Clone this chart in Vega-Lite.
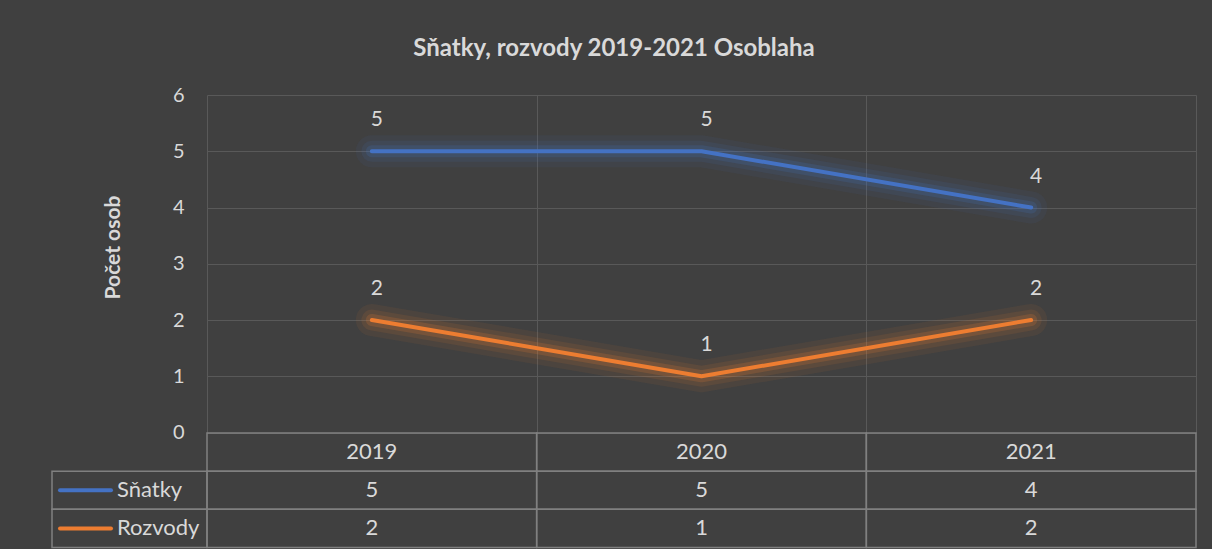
{
  "$schema": "https://vega.github.io/schema/vega-lite/v6.json",
  "background": "#404040",
  "padding": {"left": 51, "top": 37, "right": 16, "bottom": 2},
  "autosize": {"type": "pad"},
  "title": {
    "text": "Sňatky, rozvody 2019-2021 Osoblaha",
    "font": "Lato",
    "fontSize": 24,
    "fontWeight": "bold",
    "color": "#d9d9d9",
    "anchor": "middle",
    "baseline": "alphabetic",
    "offset": 5,
    "dx": -10
  },
  "datasets": {
    "d": [
      {"year": "2019", "series": "Sňatky", "value": 5},
      {"year": "2020", "series": "Sňatky", "value": 5},
      {"year": "2021", "series": "Sňatky", "value": 4},
      {"year": "2019", "series": "Rozvody", "value": 2},
      {"year": "2020", "series": "Rozvody", "value": 1},
      {"year": "2021", "series": "Rozvody", "value": 2}
    ],
    "years": [{"year": "2019"}, {"year": "2020"}, {"year": "2021"}],
    "series": [{"series": "Sňatky"}, {"series": "Rozvody"}]
  },
  "bounds": "flush",
  "spacing": 0,
  "columns": 2,
  "concat": [
    {
      "width": 155,
      "height": 337.5,
      "data": {"values": []},
      "mark": "point"
    },
    {
      "width": 989,
      "height": 337.5,
      "data": {"name": "d"},
      "encoding": {
        "x": {
          "field": "year",
          "type": "ordinal",
          "bandPosition": 0.5,
          "scale": {"type": "band", "paddingInner": 0, "paddingOuter": 0, "domain": ["2019", "2020", "2021"]},
          "axis": {"title": null, "labels": false, "ticks": false, "domain": false, "grid": true, "tickBand": "extent", "gridColor": "#595959", "gridWidth": 1}
        },
        "y": {
          "field": "value",
          "type": "quantitative",
          "scale": {"domain": [0, 6], "nice": false},
          "axis": {
            "title": "Počet osob",
            "titleFont": "Lato",
            "titleFontSize": 21,
            "titleFontWeight": "bold",
            "titleColor": "#d9d9d9",
            "titlePadding": 49,
            "titleY": 152,
            "values": [0, 1, 2, 3, 4, 5, 6],
            "labelFont": "Lato",
            "labelFontSize": 20,
            "labelColor": "#d9d9d9",
            "labelPadding": 23,
            "ticks": false,
            "domain": false,
            "grid": true,
            "gridColor": "#595959",
            "gridWidth": 1
          }
        },
        "color": {
          "field": "series",
          "type": "nominal",
          "scale": {"domain": ["Sňatky", "Rozvody"], "range": ["#4472C4", "#ED7D31"]},
          "legend": null
        }
      },
      "layer": [
        {"mark": {"type": "line", "strokeWidth": 32, "opacity": 0.07, "strokeCap": "round", "strokeJoin": "round"}},
        {"mark": {"type": "line", "strokeWidth": 21, "opacity": 0.1, "strokeCap": "round", "strokeJoin": "round"}},
        {"mark": {"type": "line", "strokeWidth": 12, "opacity": 0.18, "strokeCap": "round", "strokeJoin": "round"}},
        {"mark": {"type": "line", "strokeWidth": 4, "strokeCap": "round", "strokeJoin": "round"}},
        {
          "mark": {"type": "text", "dy": -31, "dx": 5, "font": "Lato", "fontSize": 21, "baseline": "middle"},
          "encoding": {"text": {"field": "value"}, "color": {"value": "#d9d9d9"}}
        }
      ]
    },
    {
      "width": 155,
      "height": 114.5,
      "data": {"name": "series"},
      "encoding": {
        "y": {
          "field": "series",
          "type": "nominal",
          "scale": {"type": "band", "domain": ["Rok", "Sňatky", "Rozvody"], "paddingInner": 0, "paddingOuter": 0},
          "axis": null
        }
      },
      "layer": [
        {"mark": {"type": "rect", "filled": false, "stroke": "#808080", "strokeWidth": 1.5}},
        {
          "mark": {"type": "point", "shape": "stroke", "size": 2601, "strokeWidth": 4, "filled": false, "opacity": 1, "strokeCap": "round", "xOffset": -5.25},
          "encoding": {
            "x": {"datum": "swatch", "type": "ordinal", "bandPosition": 0.5, "scale": {"type": "band", "domain": ["swatch", "name"], "paddingInner": 0, "paddingOuter": 0}, "axis": null},
            "color": {
              "field": "series",
              "type": "nominal",
              "scale": {"domain": ["Sňatky", "Rozvody"], "range": ["#4472C4", "#ED7D31"]},
              "legend": null
            }
          }
        },
        {
          "mark": {"type": "text", "align": "left", "baseline": "middle", "font": "Lato", "fontSize": 22, "color": "#d9d9d9", "dx": -12.5},
          "encoding": {
            "x": {"datum": "name", "type": "ordinal", "bandPosition": 0},
            "text": {"field": "series"}
          }
        }
      ]
    },
    {
      "width": 989,
      "height": 114.5,
      "encoding": {
        "x": {
          "field": "year",
          "type": "ordinal",
          "scale": {"type": "band", "paddingInner": 0, "paddingOuter": 0, "domain": ["2019", "2020", "2021"]},
          "axis": null
        }
      },
      "layer": [
        {
          "data": {"name": "years"},
          "mark": {"type": "rect", "filled": false, "stroke": "#808080", "strokeWidth": 1.5},
          "encoding": {
            "y": {"datum": "Rok", "type": "nominal", "scale": {"type": "band", "domain": ["Rok", "Sňatky", "Rozvody"], "paddingInner": 0, "paddingOuter": 0}, "axis": null}
          }
        },
        {
          "data": {"name": "years"},
          "mark": {"type": "text", "baseline": "middle", "font": "Lato", "fontSize": 22, "color": "#d9d9d9"},
          "encoding": {
            "x": {"field": "year", "type": "ordinal", "bandPosition": 0.5},
            "y": {"datum": "Rok", "type": "nominal", "bandPosition": 0.5},
            "text": {"field": "year"}
          }
        },
        {
          "data": {"name": "d"},
          "mark": {"type": "rect", "filled": false, "stroke": "#808080", "strokeWidth": 1.5},
          "encoding": {
            "y": {"field": "series", "type": "nominal"}
          }
        },
        {
          "data": {"name": "d"},
          "mark": {"type": "text", "baseline": "middle", "font": "Lato", "fontSize": 22, "color": "#d9d9d9"},
          "encoding": {
            "x": {"field": "year", "type": "ordinal", "bandPosition": 0.5},
            "y": {"field": "series", "type": "nominal", "bandPosition": 0.5},
            "text": {"field": "value"}
          }
        }
      ]
    }
  ],
  "config": {
    "view": {"stroke": null},
    "font": "Lato"
  }
}
